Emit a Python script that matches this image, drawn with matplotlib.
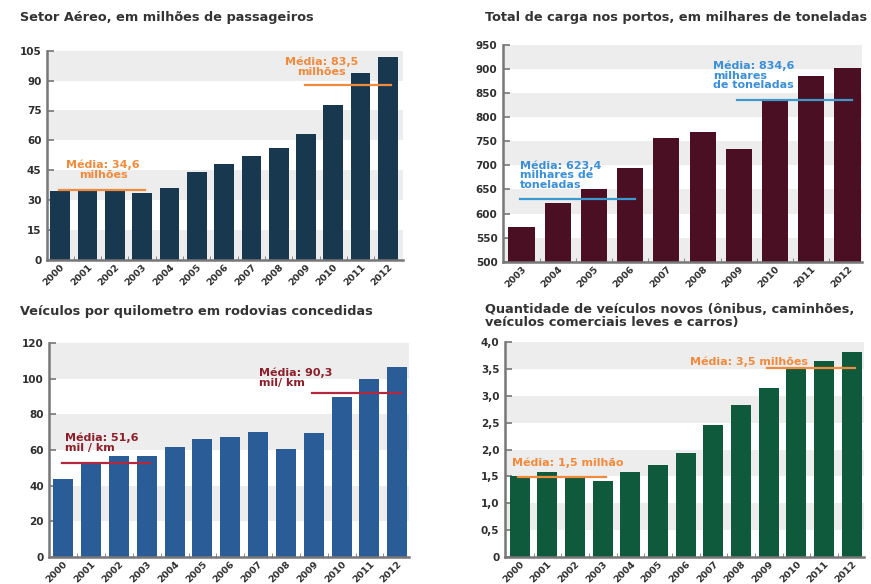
import numpy as np
import matplotlib.pyplot as plt

plt.rcParams['font.family'] = ['DejaVu Sans']

# dados
anos = [str(a) for a in range(2000, 2013)]
anos_portos = [str(a) for a in range(2003, 2013)]

passageiros = [34.5, 34.8, 34.8, 33.8, 36.0, 44.3, 48.0, 52.3, 56.3, 63.1, 77.8, 93.7, 102.0]
carga = [573, 622, 652, 695, 756, 770, 734, 838, 886, 903]
veic_km = [43.5, 52.0, 56.8, 56.8, 61.9, 66.0, 67.5, 70.3, 60.6, 69.4, 89.8, 99.8, 106.9]
veic_novos = [1.50, 1.59, 1.48, 1.42, 1.58, 1.72, 1.93, 2.46, 2.83, 3.15, 3.50, 3.65, 3.82]

# medias (anos inicio/fim, nivel desenhado)
media_aereo = [('2000', '2003', 35.1), ('2009', '2012', 87.8)]
media_portos = [('2003', '2006', 629.6), ('2009', '2012', 835.7)]
media_km = [('2000', '2003', 52.9), ('2009', '2012', 91.9)]
media_novos = [('2000', '2003', 1.49), ('2009', '2012', 3.51)]

txt_aereo = ['Média: 34,6\nmilhões', 'Média: 83,5\nmilhões']
txt_portos = ['Média: 623,4\nmilhares de\ntoneladas', 'Média: 834,6\nmilhares\nde toneladas']
txt_km = ['Média: 51,6\nmil / km', 'Média: 90,3\nmil/ km']
txt_novos = ['Média: 1,5 milhão', 'Média: 3,5 milhões']

W, H = 871, 584
fig = plt.figure(figsize=(W / 100, H / 100), dpi=100)

GRAY = '#2e2e2e'
BAND = '#ededed'


def painel(rect, anos_x, valores, cor, ylim, yticks, yfmt, titulo, xlim):
    l, r, t, b = rect
    ax = fig.add_axes([l / W, 1 - b / H, (r - l) / W, (b - t) / H])
    x = np.arange(len(anos_x))
    # faixas cinzas alternadas
    for k in range(len(yticks) - 1, 0, -2):
        ax.axhspan(yticks[k - 1], yticks[k], color=BAND, lw=0, zorder=0)
    ax.bar(x, valores, width=0.72, color=cor, zorder=2)
    ax.set_xlim(*xlim)
    ax.set_ylim(*ylim)
    ax.set_yticks(yticks)
    ax.set_yticklabels([yfmt(v) for v in yticks], fontsize=7.5, fontweight='bold', color=GRAY)
    ax.set_xticks(x)
    ax.set_xticklabels(anos_x, rotation=45, ha='right', rotation_mode='anchor',
                       fontsize=6.8, fontweight='bold', color=GRAY)
    ax.set_xticks(x[:-1] + 0.5, minor=True)
    ax.tick_params(axis='x', which='major', length=0, pad=2)
    ax.tick_params(axis='x', which='minor', direction='in', length=3, color='#777777')
    ax.tick_params(axis='y', direction='in', length=5, width=1.2, color='#777777', pad=4)
    for s in ['top', 'right']:
        ax.spines[s].set_visible(False)
    for s in ['left', 'bottom']:
        ax.spines[s].set_color('#777777')
        ax.spines[s].set_linewidth(1.8)
    fig.text(titulo[1] / W, 1 - titulo[2] / H, titulo[0], fontsize=9.3, fontweight='bold',
             color='#333333', ha='left', va='center', linespacing=1.0)
    return ax


def medias(ax, anos_x, lista, textos, cor_linha, cor_txt, pos_txt, ha):
    for (a0, a1, y), txt, (tx, ty) in zip(lista, textos, pos_txt):
        i0 = anos_x.index(a0)
        i1 = anos_x.index(a1)
        ax.plot([i0 - 0.05, i1 + 0.12], [y, y], color=cor_linha, lw=1.6, zorder=3)
        ax.text(tx, ty, txt, color=cor_txt, fontsize=8, fontweight='bold', ha=ha,
                va='center', linespacing=0.95, zorder=4)


# Setor aereo
ax1 = painel((47, 403, 50.7, 260), anos, passageiros, '#17384f', (0, 105),
             list(range(0, 106, 15)), lambda v: str(v),
             ('Setor Aéreo, em milhões de passageiros', 20, 18), (-0.48, 12.55))
medias(ax1, anos, media_aereo, txt_aereo, '#f08a3c', '#f08a3c',
       [(1.57, 45.4), (9.58, 97.0)], 'center')

# Portos
ax2 = painel((503, 862, 45, 261.7), anos_portos, carga, '#4a0f22', (500, 950),
             list(range(500, 951, 50)), lambda v: str(v),
             ('Total de carga nos portos, em milhares de toneladas', 485, 18), (-0.51, 9.4))
medias(ax2, anos_portos, media_portos, txt_portos, '#3a9ad0', '#3b8fd6',
       [(-0.05, 680), (5.28, 887)], 'left')

# Rodovias
ax3 = painel((49.3, 409, 343.3, 556.7), anos, veic_km, '#2a5d98', (0, 120),
             list(range(0, 121, 20)), lambda v: str(v),
             ('Veículos por quilometro em rodovias concedidas', 20, 312), (-0.5, 12.42))
medias(ax3, anos, media_km, txt_km, '#b3283f', '#8b1f2a',
       [(0.06, 64.2), (7.02, 100.7)], 'left')

# Veiculos novos
ticks4 = [0, 0.5, 1.0, 1.5, 2.0, 2.5, 3.0, 3.5, 4.0]
ax4 = painel((505, 864, 342, 557), anos, veic_novos, '#0f5a3c', (0, 4.0), ticks4,
             lambda v: '0' if v == 0 else ('%.1f' % v).replace('.', ','),
             ('Quantidade de veículos novos (ônibus, caminhões,\nveículos comerciais leves e carros)', 485, 316),
             (-0.53, 12.44))
medias(ax4, anos, media_novos, txt_novos, '#f28a3c', '#f28a3c',
       [(-0.29, 1.75), (6.15, 3.63)], 'left')

plt.savefig('out.png', dpi=100)
